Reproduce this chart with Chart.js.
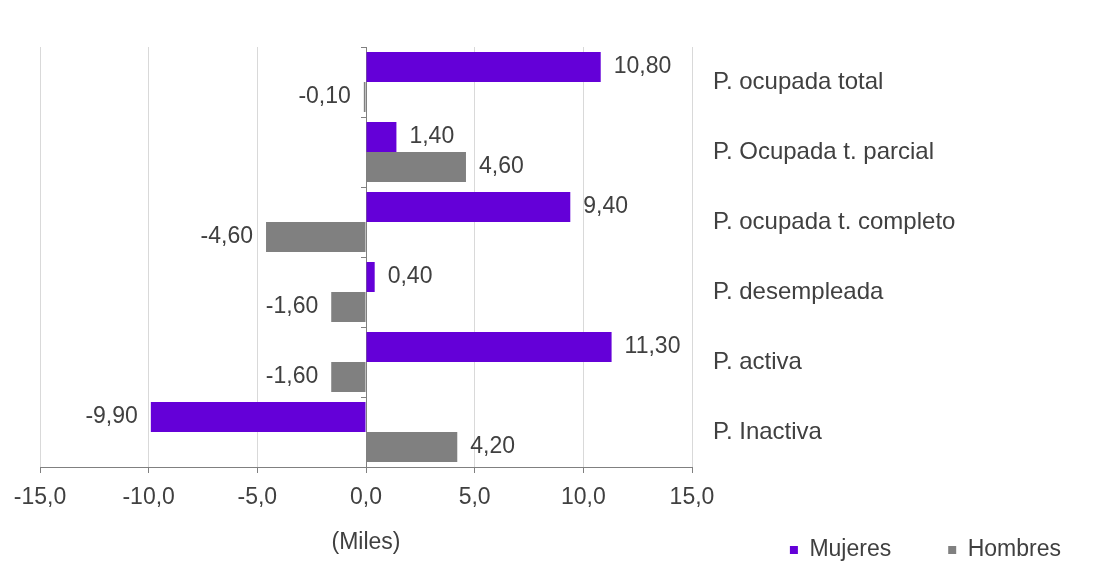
<!DOCTYPE html>
<html>
<head>
<meta charset="utf-8">
<script src="https://cdn.jsdelivr.net/npm/chart.js@4/dist/chart.umd.min.js"></script>
<style>
  html, body { margin: 0; padding: 0; background: #ffffff; }
  #wrap { width: 1097px; height: 562px; }
</style>
</head>
<body>
<div id="wrap"><canvas id="c" width="1097" height="562"></canvas></div>
<script>
// ---- data ----
const categories = [
  'P. ocupada total',
  'P. Ocupada t. parcial',
  'P. ocupada t. completo',
  'P. desempleada',
  'P. activa',
  'P. Inactiva'
];
const mujeres = [10.8, 1.4, 9.4, 0.4, 11.3, -9.9];
const hombres = [-0.1, 4.6, -4.6, -1.6, -1.6, 4.2];
const seriesNames = ['Mujeres', 'Hombres'];
const xTickValues = [-15, -10, -5, 0, 5, 10, 15];
const axisTitle = '(Miles)';

// ---- styling ----
const FONT = '"Liberation Sans", Arial, sans-serif';
const TEXT = '#404040';
Chart.defaults.font.family = FONT;
Chart.defaults.font.size = 23;
Chart.defaults.color = TEXT;

const fmt2 = v => v.toFixed(2).replace('.', ',');
const fmt1 = v => (Math.abs(v) < 1e-9 ? 0 : v).toFixed(1).replace('.', ',');

const valueLabels = {
  id: 'valueLabels',
  afterDatasetsDraw(chart) {
    const ctx = chart.ctx;
    ctx.save();
    ctx.font = '23px ' + FONT;
    ctx.fillStyle = TEXT;
    ctx.textBaseline = 'middle';
    chart.data.datasets.forEach((ds, di) => {
      chart.getDatasetMeta(di).data.forEach((bar, i) => {
        const v = ds.data[i];
        const neg = v < 0;
        ctx.textAlign = neg ? 'right' : 'left';
        ctx.fillText(fmt2(v), bar.x + (neg ? -13 : 13), bar.y);
      });
    });
    ctx.restore();
  }
};

new Chart(document.getElementById('c'), {
  type: 'bar',
  data: {
    labels: categories,
    datasets: [
      { label: seriesNames[0], data: mujeres, backgroundColor: '#6400D8', borderWidth: 0,
        categoryPercentage: 0.857, barPercentage: 1.0 },
      { label: seriesNames[1], data: hombres, backgroundColor: '#808080', borderWidth: 0,
        categoryPercentage: 0.857, barPercentage: 1.0 }
    ]
  },
  options: {
    indexAxis: 'y',
    responsive: false,
    animation: false,
    layout: { padding: { left: 40, top: 47, right: -21, bottom: 0 } },
    scales: {
      x: {
        type: 'linear',
        min: -15, max: 15,
        afterBuildTicks: s => { s.ticks = xTickValues.map(v => ({ value: v })); },
        afterFit: s => { s.height = 48; },
        ticks: { callback: v => fmt1(v), padding: 11, color: TEXT, font: { size: 23 } },
        grid: { color: '#d9d9d9', tickColor: '#808080', tickLength: 6, lineWidth: 1 },
        border: { display: true, color: '#808080', width: 1 },
        title: { display: true, text: axisTitle, color: TEXT, font: { size: 23 },
                 padding: { top: 0, bottom: -41.8 } }
      },
      y: {
        type: 'category',
        position: 'right',
        afterFit: s => { s.width = 426; },
        grid: { display: false, drawTicks: false },
        border: { display: false },
        ticks: { padding: 21, color: TEXT, font: { size: 24 } }
      },
      yz: {
        type: 'category',
        axis: 'y',
        position: { x: 0 },
        offset: true,
        grid: { offset: true, drawOnChartArea: false, drawTicks: true, tickLength: 5, color: '#808080' },
        border: { display: true, color: '#808080', width: 1 },
        ticks: { display: false }
      }
    },
    plugins: {
      legend: {
        position: 'bottom',
        align: 'end',
        maxHeight: 47,
        title: { display: true, text: '', font: { size: 1 }, padding: { top: 0, bottom: -34.7 } },
        labels: { boxWidth: 8, boxHeight: 8, padding: 57, color: TEXT, font: { size: 23 } }
      },
      tooltip: { enabled: false }
    }
  },
  plugins: [valueLabels]
});
</script>
</body>
</html>
